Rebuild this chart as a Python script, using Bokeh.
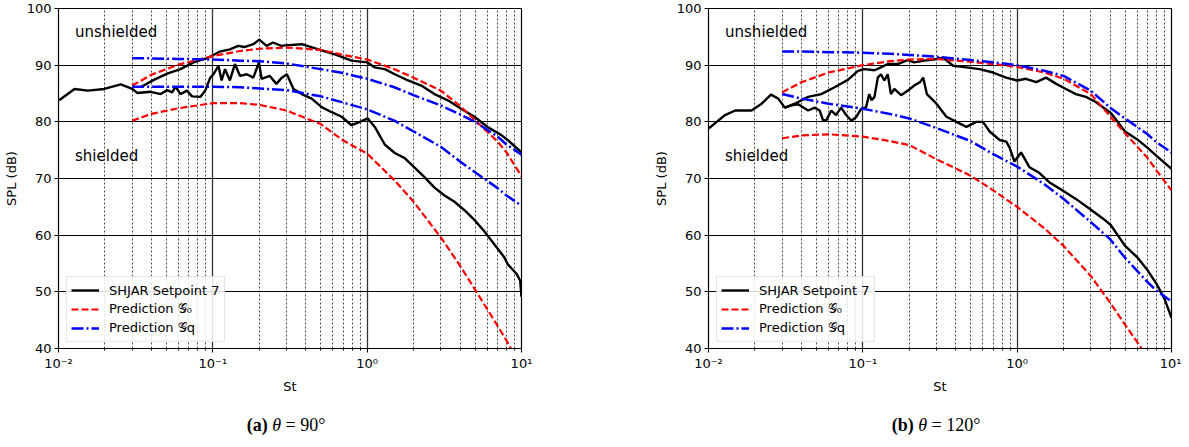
from bokeh.plotting import figure
from bokeh.layouts import column, row
from bokeh.models import (Range1d, FixedTicker, CustomJSTickFormatter, Legend,
                          LegendItem, Label, Div)
from bokeh.embed import file_html
from bokeh.resources import INLINE

# ---------------- data ----------------
X_MAJOR = [0.01, 0.1, 1.0, 10.0]
X_MINOR = [m * d for d in (0.01, 0.1, 1.0) for m in (2, 3, 4, 5, 6, 7, 8, 9)]
Y_TICKS = [40, 50, 60, 70, 80, 90, 100]

PRED_ST = [0.03, 0.04, 0.06, 0.1, 0.15, 0.2, 0.3, 0.5, 0.7, 1.0, 1.5, 2.0,
           3.0, 4.0, 5.0, 7.0, 8.0, 10.0]

# (a) theta = 90 deg
A_UNSH_ST = [0.0344, 0.0415, 0.0506, 0.0617, 0.075, 0.091, 0.101, 0.111, 0.129,
             0.146, 0.16, 0.183, 0.2, 0.223, 0.245, 0.278, 0.294, 0.377, 0.483,
             0.618, 0.792, 1.0, 1.12, 1.3, 1.51, 1.84, 2.24, 2.73, 3.33, 4.06,
             4.95, 6.03, 7.36, 8.13, 10.0]
A_UNSH_SPL = [86.2, 87.4, 88.5, 89.3, 90.5, 91.2, 91.8, 92.4, 92.8, 93.4, 93.2,
              93.7, 94.5, 93.4, 94.0, 93.4, 93.5, 93.7, 92.8, 91.9, 90.8, 90.5,
              89.6, 89.3, 88.4, 87.3, 86.4, 84.9, 83.8, 82.3, 80.9, 79.1, 77.7,
              76.8, 74.6]
A_SH_ST = [0.0101, 0.0127, 0.0155, 0.0198, 0.0253, 0.0301, 0.0324, 0.0395,
           0.0459, 0.0506, 0.0545, 0.0573, 0.0617, 0.068, 0.0733, 0.0829,
           0.0893, 0.0962, 0.101, 0.1087, 0.114, 0.12, 0.129, 0.139, 0.15,
           0.166, 0.183, 0.199, 0.207, 0.234, 0.258, 0.28, 0.302, 0.333, 0.377,
           0.437, 0.507, 0.589, 0.683, 0.792, 0.897, 1.01, 1.12, 1.3, 1.51,
           1.75, 2.03, 2.36, 2.73, 3.17, 3.68, 4.27, 4.95, 5.74, 6.66, 7.73,
           8.13, 9.27, 9.8, 10.0]
A_SH_SPL = [83.8, 85.8, 85.5, 85.8, 86.6, 85.8, 85.1, 85.3, 84.9, 85.6, 85.2,
            86.2, 84.9, 85.5, 84.5, 84.4, 85.5, 87.8, 88.4, 89.9, 87.3, 89.3,
            87.3, 90.2, 88.1, 88.4, 87.8, 90.5, 87.6, 88.1, 86.7, 87.8, 88.4,
            85.8, 84.9, 84.1, 82.6, 81.7, 80.9, 79.4, 80.0, 80.6, 79.1, 76.0,
            74.5, 73.6, 71.9, 70.2, 68.4, 67.0, 65.9, 64.4, 62.7, 60.7, 58.4,
            56.1, 54.9, 53.2, 52.0, 49.1]
A_G0_UNSH = [86.4, 88.3, 90.1, 91.6, 92.5, 92.9, 93.1, 92.7, 91.8, 91.0, 89.3,
             87.8, 85.5, 82.8, 80.3, 76.5, 74.6, 70.4]
A_G0_SH = [80.2, 81.4, 82.4, 83.3, 83.3, 83.0, 82.0, 79.6, 76.7, 74.4, 69.7,
           65.9, 59.6, 54.6, 50.4, 44.0, 41.4, 36.5]
A_GQ_UNSH = [91.2, 91.2, 91.1, 91.0, 90.8, 90.7, 90.3, 89.3, 88.6, 87.6, 86.1,
             84.7, 82.9, 81.3, 80.0, 77.4, 76.0, 74.2]
A_GQ_SH = [86.2, 86.2, 86.2, 86.2, 86.1, 85.9, 85.6, 84.5, 83.4, 82.2, 80.2,
           78.3, 75.6, 73.0, 71.1, 68.3, 67.0, 65.2]

# (b) theta = 120 deg
B_UNSH_ST = [0.0313, 0.0362, 0.0442, 0.0538, 0.0656, 0.08, 0.093, 0.102, 0.119,
             0.131, 0.145, 0.168, 0.195, 0.215, 0.25, 0.286, 0.332, 0.385,
             0.469, 0.571, 0.697, 0.849, 1.0, 1.14, 1.33, 1.54, 1.79, 2.07, 2.4,
             2.79, 3.23, 4.06, 5.0, 6.0, 7.0, 8.0, 10.0]
B_UNSH_SPL = [82.5, 83.2, 84.4, 84.9, 86.1, 87.4, 89.0, 89.3, 89.1, 89.6, 90.2,
              90.2, 90.9, 90.5, 90.8, 91.0, 91.3, 89.9, 89.6, 89.3, 88.7, 87.8,
              87.3, 87.6, 87.0, 87.8, 86.7, 85.8, 84.9, 84.4, 83.5, 81.5, 78.3,
              76.9, 75.4, 74.0, 71.7]
B_SH_ST = [0.01, 0.0128, 0.0149, 0.019, 0.0221, 0.0254, 0.0283, 0.0313, 0.0345,
           0.0381, 0.0442, 0.0488, 0.0525, 0.0552, 0.058, 0.0625, 0.067, 0.0724,
           0.078, 0.0842, 0.0903, 0.0975, 0.105, 0.110, 0.114, 0.119, 0.125,
           0.131, 0.138, 0.145, 0.152, 0.16, 0.177, 0.2, 0.215, 0.235, 0.246,
           0.26, 0.3, 0.348, 0.404, 0.469, 0.544, 0.6, 0.663, 0.77, 0.85, 0.892,
           0.96, 1.06, 1.2, 1.39, 1.62, 1.97, 2.4, 2.93, 3.57, 4.04, 5.0, 6.0,
           7.0, 8.0, 9.0, 10.0]
B_SH_SPL = [78.8, 81.2, 82.0, 82.0, 83.2, 84.8, 84.1, 82.5, 82.9, 83.1, 82.0,
            82.5, 82.0, 80.3, 80.3, 82.0, 81.2, 82.5, 81.2, 80.2, 80.8, 82.3,
            82.6, 84.9, 83.8, 84.4, 87.8, 88.4, 87.3, 88.4, 84.9, 85.8, 84.7,
            85.7, 86.4, 87.0, 87.8, 84.9, 83.2, 80.9, 80.0, 79.1, 80.0, 80.0,
            78.3, 76.8, 76.5, 75.5, 73.0, 74.6, 72.0, 71.0, 69.3, 67.9, 66.4,
            64.7, 63.0, 61.8, 58.1, 56.1, 53.8, 51.4, 48.8, 45.4]
B_G0_UNSH = [85.2, 87.0, 88.7, 90.0, 90.7, 91.0, 91.1, 90.6, 90.2, 89.7, 88.7,
             87.6, 84.9, 81.0, 78.0, 73.6, 71.4, 67.9]
B_G0_SH = [77.1, 77.6, 77.8, 77.4, 76.6, 75.9, 73.4, 70.5, 67.9, 65.0, 61.2,
           58.1, 52.8, 48.1, 44.2, 38.5, 36.0, 31.5]
B_GQ_UNSH = [92.4, 92.4, 92.3, 92.2, 92.0, 91.8, 91.5, 90.9, 90.5, 90.0, 89.0,
             88.1, 85.5, 82.5, 80.6, 77.8, 76.4, 74.6]
B_GQ_SH = [84.9, 84.1, 83.2, 82.3, 81.4, 80.6, 78.9, 76.6, 74.3, 72.1, 69.0,
           66.4, 62.3, 59.3, 56.0, 51.7, 50.2, 48.3]

LEGEND_LABELS = ["SHJAR Setpoint 7", "Prediction \U0001D4A2\u2080",
                 "Prediction \U0001D4A2q"]

FONT = "DejaVu Sans"

SUP_JS = """
const e = Math.round(Math.log10(tick));
const m = {"-": "\\u207b", "0": "\\u2070", "1": "\\u00b9", "2": "\\u00b2", "3": "\\u00b3"};
return "10" + String(e).split("").map(c => m[c]).join("");
"""


def make_fig(bl, br, unsh_st, unsh_spl, sh_st, sh_spl, g0u, g0s, gqu, gqs):
    p = figure(frame_width=463, frame_height=340, x_axis_type="log",
               x_range=Range1d(0.01, 10), y_range=Range1d(40, 100),
               output_backend="svg", toolbar_location=None,
               min_border_left=bl, min_border_right=br,
               min_border_top=8, min_border_bottom=48)
    p.background_fill_color = "white"
    p.border_fill_color = "white"
    p.outline_line_color = "black"
    p.outline_line_width = 1.2
    p.outline_line_alpha = 1.0

    xt = FixedTicker(ticks=X_MAJOR, minor_ticks=X_MINOR)
    yt = FixedTicker(ticks=Y_TICKS)
    p.xaxis.ticker = xt
    p.yaxis.ticker = yt
    p.xgrid.ticker = xt
    p.ygrid.ticker = yt
    p.xaxis.formatter = CustomJSTickFormatter(code=SUP_JS)

    for ax in p.axis:
        ax.axis_line_color = "black"
        ax.major_tick_line_color = "black"
        ax.major_tick_out = 4
        ax.major_tick_in = 0
        ax.minor_tick_out = 2
        ax.minor_tick_in = 0
        ax.major_label_text_font = FONT
        ax.major_label_text_font_size = "13px"
        ax.major_label_text_color = "black"
        ax.major_label_standoff = 3
        ax.axis_label_text_font = FONT
        ax.axis_label_text_font_size = "13px"
        ax.axis_label_text_font_style = "normal"
        ax.axis_label_text_color = "black"
        ax.axis_label_standoff = 5
    p.yaxis.minor_tick_line_color = None
    p.xaxis.axis_label = "St"
    p.yaxis.axis_label = "SPL (dB)"

    p.xgrid.grid_line_color = "black"
    p.xgrid.grid_line_alpha = 0.8
    p.xgrid.grid_line_width = 1.3
    p.xgrid.minor_grid_line_color = "black"
    p.xgrid.minor_grid_line_dash = "2 2"
    p.xgrid.minor_grid_line_width = 0.8
    p.xgrid.minor_grid_line_alpha = 0.9
    p.ygrid.grid_line_color = "black"
    p.ygrid.grid_line_width = 1.1
    p.ygrid.grid_line_alpha = 1.0

    rb = p.line(unsh_st, unsh_spl, line_color="black", line_width=2.4)
    p.line(sh_st, sh_spl, line_color="black", line_width=2.4)
    rr = p.line(PRED_ST, g0u, line_color="#ff0000", line_width=2.2,
                line_dash="7 3")
    p.line(PRED_ST, g0s, line_color="#ff0000", line_width=2.2, line_dash="7 3")
    rq = p.line(PRED_ST, gqu, line_color="#0000ff", line_width=2.5,
                line_dash="12 3 2 3")
    p.line(PRED_ST, gqs, line_color="#0000ff", line_width=2.5,
           line_dash="12 3 2 3")

    legend = Legend(items=[LegendItem(label=LEGEND_LABELS[0], renderers=[rb]),
                           LegendItem(label=LEGEND_LABELS[1], renderers=[rr]),
                           LegendItem(label=LEGEND_LABELS[2], renderers=[rq])],
                    location=(8, 6), margin=0, padding=4, spacing=1,
                    glyph_width=28, glyph_height=18, label_height=18,
                    label_standoff=10, label_text_font=FONT,
                    label_text_font_size="13px", label_text_color="black",
                    border_line_color="#cccccc", border_line_width=1,
                    background_fill_alpha=0.85)
    p.add_layout(legend)

    p.add_layout(Label(x=0.0128, y=95.8, text="unshielded", text_font=FONT,
                       text_font_size="15px", text_baseline="middle",
                       text_align="left", text_color="black"))
    p.add_layout(Label(x=0.0128, y=74.0, text="shielded", text_font=FONT,
                       text_font_size="15px", text_baseline="middle",
                       text_align="left", text_color="black"))
    return p


p1 = make_fig(50, 22, A_UNSH_ST, A_UNSH_SPL, A_SH_ST, A_SH_SPL,
              A_G0_UNSH, A_G0_SH, A_GQ_UNSH, A_GQ_SH)
p2 = make_fig(165, 10, B_UNSH_ST, B_UNSH_SPL, B_SH_ST, B_SH_SPL,
              B_G0_UNSH, B_G0_SH, B_GQ_UNSH, B_GQ_SH)

span_style = ("position:absolute;top:12px;transform:translateX(-50%);"
              "white-space:nowrap;")
caption = Div(text=(
    '<div style="position:relative;width:1173px;height:30px;'
    "font-family:'Liberation Serif',serif;font-size:18px;color:black;\">"
    f'<span style="{span_style}left:281px;"><b>(a)</b> <i>&theta;</i> = 90&deg;</span>'
    f'<span style="{span_style}left:931px;"><b>(b)</b> <i>&theta;</i> = 120&deg;</span>'
    '</div>'), width=1173, height=30)

layout = column(row(p1, p2), caption)

open("out.html", "w").write(file_html(layout, INLINE))
